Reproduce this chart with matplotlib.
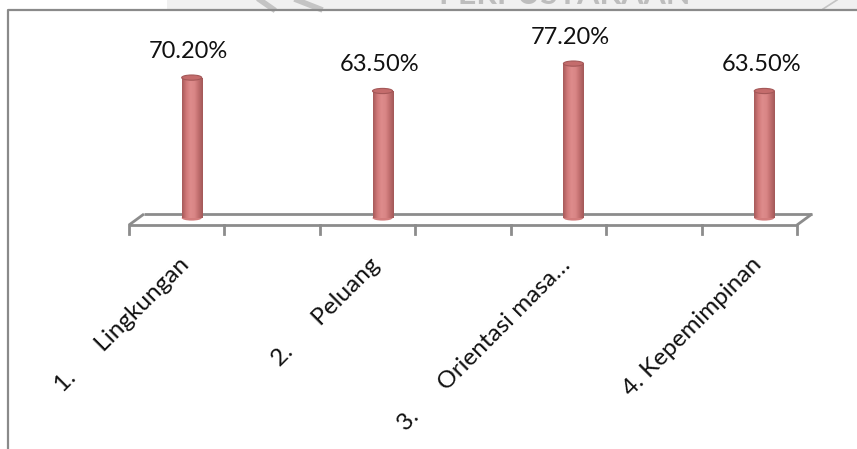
import numpy as np
import matplotlib.pyplot as plt
from matplotlib.patches import Ellipse, Rectangle
from matplotlib.lines import Line2D
from matplotlib.colors import LinearSegmentedColormap

plt.rcParams['font.family'] = ['Lato', 'DejaVu Sans']

categories = ['1.      Lingkungan', '2.      Peluang', '3.      Orientasi masa…', '4. Kepemimpinan']
values = [70.2, 63.5, 77.2, 63.5]
value_labels = ['70.20%', '63.50%', '77.20%', '63.50%']

W, H = 857, 449
fig = plt.figure(figsize=(W / 100, H / 100), dpi=100)

# axes placed on the back plane of the floor (pixels -> fraction)
x0_px, x1_px, base_px = 144, 812, 218
ax = fig.add_axes([x0_px / W, (H - base_px) / H, (x1_px - x0_px) / W, 200 / H])
ax.set_xlim(-0.5, 6.5)
ax.set_ylim(0, 100)
ax.axis('off')

pos = np.arange(len(categories)) * 2
bw = 0.21
px_x = (x1_px - x0_px) / 7.0   # pixels per slot
px_y = 2.0                     # pixels per percent
dx, dy = -15 / px_x, -11 / px_y  # depth offset back -> front

# floor
grey = '#8c8c8c'
yb, yf = 2.0, 2.0 + dy
xl, xr = -0.5, 6.5
floor = [([xl, xr], [yb, yb]), ([xl + dx, xr + dx], [yf, yf]),
         ([xl, xl + dx], [yb, yf]), ([xr, xr + dx], [yb, yf])]
for xs, ys in floor:
    ax.plot(xs, ys, color=grey, lw=2, clip_on=False, solid_capstyle='butt', zorder=1)
for k in range(8):
    xt = xl + dx + k
    ax.plot([xt, xt], [yf, yf - 4.5], color=grey, lw=2, clip_on=False, zorder=1)

# cylinders
cmap = LinearSegmentedColormap.from_list('cyl', ['#a65a5a', '#d07878', '#de8c8c', '#da8686', '#c06e6e', '#a25858'])
grad = np.linspace(0, 1, 64).reshape(1, -1)
eh = 2.6
for p, v, lab in zip(pos, values, value_labels):
    rect = Rectangle((p - bw / 2, 0), bw, v, facecolor='none', edgecolor='none')
    ax.add_patch(rect)
    im = ax.imshow(grad, extent=[p - bw / 2, p + bw / 2, -0.5, v], aspect='auto',
                   cmap=cmap, zorder=2, interpolation='bicubic')
    im.set_clip_path(rect)
    ax.add_patch(Ellipse((p, 0), bw, eh, facecolor='#d27c7c', edgecolor='none', zorder=1.9, clip_on=False))
    ax.add_patch(Ellipse((p, v), bw, eh, facecolor='#c46c6c', edgecolor='#a45858', lw=0.8, zorder=3))
    ax.text(p - 0.03, v + 8, lab, ha='center', va='bottom', fontsize=17, color='#111111', zorder=4)

# category labels
for p, c in zip(pos, categories):
    ax.text(p - 0.14, -18, c, rotation=45, rotation_mode='anchor', ha='right', va='top',
            fontsize=17.5, color='#111111', clip_on=False)

ax.set_xlim(-0.5, 6.5)
ax.set_ylim(0, 100)

# chart frame (runs off right and bottom)
fig.add_artist(Line2D([8 / W, 8 / W, 1.0], [0.0, 1 - 10 / H, 1 - 10 / H],
                      color='#8a8a8a', lw=1.6, transform=fig.transFigure))

# faint scanned watermark band at the top
fig.add_artist(Rectangle((167 / W, 1 - 9 / H), 1 - 167 / W, 9 / H, facecolor='#f0f0f0',
                         edgecolor='none', transform=fig.transFigure, zorder=0))
for xa, xb, lw in [(260, 273, 4), (297, 320, 4), (837, 823, 1.2)]:
    fig.add_artist(Line2D([xa / W, xb / W], [1.0, 1 - 9 / H], color='#c4c4c4', lw=lw,
                          transform=fig.transFigure, zorder=0.4))
fig.text(438 / W, 1 - 9.5 / H, 'PERPUSTAKAAN', fontsize=23, fontweight='bold', color='#bdbdbd',
         ha='left', va='bottom', zorder=0.5)

fig.savefig('out.png', dpi=100)
